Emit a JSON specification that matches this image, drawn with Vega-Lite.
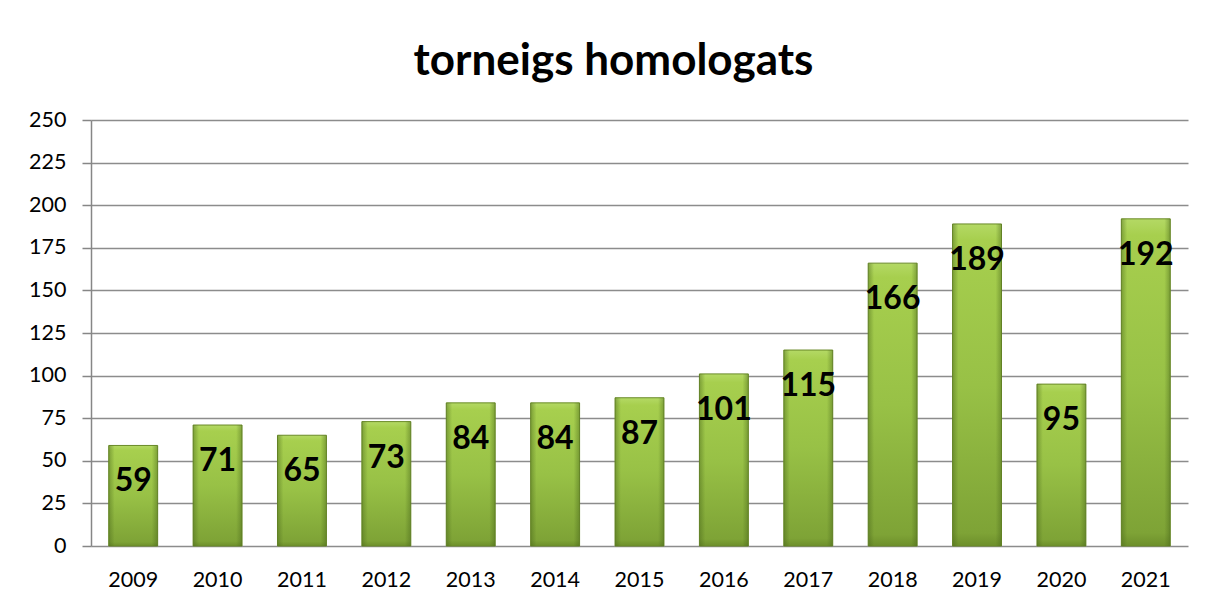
{
  "$schema": "https://vega.github.io/schema/vega-lite/v6.json",
  "autosize": {"type": "none"},
  "width": 1097,
  "height": 426,
  "padding": {"left": 91, "top": 120, "right": 27, "bottom": 60},
  "background": "white",
  "title": {
    "text": "torneigs homologats",
    "font": "Lato",
    "fontSize": 44,
    "fontWeight": "bold",
    "color": "black",
    "anchor": "middle",
    "frame": "group",
    "baseline": "alphabetic",
    "offset": -10,
    "dx": -26
  },
  "data": {
    "values": [
      {"year": "2009", "count": 59},
      {"year": "2010", "count": 71},
      {"year": "2011", "count": 65},
      {"year": "2012", "count": 73},
      {"year": "2013", "count": 84},
      {"year": "2014", "count": 84},
      {"year": "2015", "count": 87},
      {"year": "2016", "count": 101},
      {"year": "2017", "count": 115},
      {"year": "2018", "count": 166},
      {"year": "2019", "count": 189},
      {"year": "2020", "count": 95},
      {"year": "2021", "count": 192}
    ]
  },
  "encoding": {
    "x": {
      "field": "year",
      "type": "nominal",
      "sort": null,
      "scale": {"paddingInner": 0.42, "paddingOuter": 0.21},
      "axis": {
        "title": null,
        "labelAngle": 0,
        "labelFont": "Lato",
        "labelFontSize": 21.5,
        "labelColor": "black",
        "labelPadding": 23,
        "ticks": false,
        "domain": false,
        "grid": false
      }
    },
    "y": {
      "field": "count",
      "type": "quantitative",
      "scale": {"domain": [0, 250], "nice": false},
      "axis": {
        "title": null,
        "values": [0, 25, 50, 75, 100, 125, 150, 175, 200, 225, 250],
        "labelFont": "Lato",
        "labelFontSize": 21.5,
        "labelColor": "black",
        "labelPadding": 16,
        "tickSize": 9,
        "tickColor": "#868686",
        "tickWidth": 1.5,
        "domainColor": "#868686",
        "domainWidth": 1.5,
        "gridColor": "#8c8c8c",
        "gridWidth": 1.5,
        "grid": true
      }
    }
  },
  "layer": [
    {
      "mark": {
        "type": "bar",
        "stroke": "#6a8a28",
        "strokeWidth": 1,
        "fill": {
          "gradient": "linear",
          "x1": 0, "y1": 0, "x2": 0, "y2": 1,
          "stops": [
            {"offset": 0, "color": "#b4d965"},
            {"offset": 0.05, "color": "#a7cf4e"},
            {"offset": 0.5, "color": "#98c146"},
            {"offset": 0.96, "color": "#7ea336"},
            {"offset": 1, "color": "#6d8f2b"}
          ]
        }
      }
    },
    {
      "mark": {
        "type": "bar",
        "fill": {
          "gradient": "linear",
          "x1": 0, "y1": 0, "x2": 1, "y2": 0,
          "stops": [
            {"offset": 0, "color": "rgba(70,100,25,0.45)"},
            {"offset": 0.12, "color": "rgba(70,100,25,0)"},
            {"offset": 0.88, "color": "rgba(70,100,25,0)"},
            {"offset": 1, "color": "rgba(70,100,25,0.45)"}
          ]
        }
      }
    },
    {
      "mark": {
        "type": "text",
        "font": "Lato",
        "fontSize": 32,
        "fontWeight": "bold",
        "color": "black",
        "baseline": "middle",
        "dy": 36
      },
      "encoding": {"text": {"field": "count", "type": "quantitative"}}
    }
  ],
  "config": {"view": {"stroke": null}}
}
